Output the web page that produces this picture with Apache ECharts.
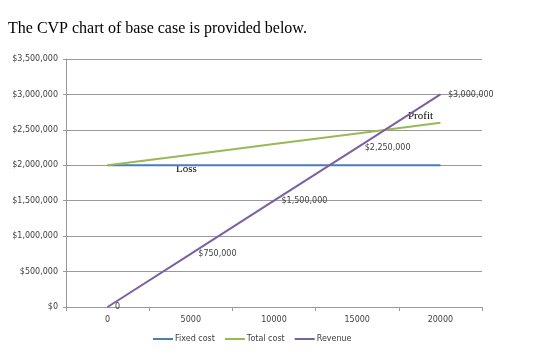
<!DOCTYPE html>
<html><head><meta charset="utf-8">
<script src="https://cdn.jsdelivr.net/npm/echarts@6/dist/echarts.min.js"></script>
<style>html,body{margin:0;padding:0;background:#fff}#c{width:539px;height:356px}</style>
</head><body><div id="c"></div>
<script>
var categories = ['0', '5000', '10000', '15000', '20000'];
var fixedCost = [2000000, 2000000, 2000000, 2000000, 2000000];
var totalCost = [2000000, 2150000, 2300000, 2450000, 2600000];
var revenue = [0, 750000, 1500000, 2250000, 3000000];
var revenueLabels = ['0', '$750,000', '$1,500,000', '$2,250,000', '$3,000,000'];
var yTicks = [0, 500000, 1000000, 1500000, 2000000, 2500000, 3000000, 3500000];

function money(v){ return '$' + v.toString().replace(/\B(?=(\d{3})+(?!\d))/g, ','); }

var chart = echarts.init(document.getElementById('c'), null, {renderer:'canvas'});
var lab = {fontFamily:'DejaVu Sans', fontSize:8, color:'#404040'};
chart.setOption({
  backgroundColor:'#fff',
  animation:false,
  title:{text:'The CVP chart of base case is provided below.', left:3, top:16,
    textStyle:{fontFamily:'Liberation Serif', fontSize:16, fontWeight:'normal', color:'#000'}},
  grid:{left:66, right:57, top:59, bottom:49},
  legend:{bottom:8, left:148, icon:'rect', itemWidth:20, itemHeight:2, itemGap:10,
    textStyle:{fontFamily:'DejaVu Sans', fontSize:8, color:'#404040', padding:[0,0,0,-3]},
    data:['Fixed cost','Total cost','Revenue']},
  xAxis:{type:'category', data:categories, boundaryGap:true,
    axisLine:{lineStyle:{color:'#999'}},
    axisTick:{show:true, length:4, lineStyle:{color:'#999'}},
    axisLabel:Object.assign({margin:9}, lab)},
  yAxis:{type:'value', min:0, max:3500000, interval:500000,
    axisLine:{show:true, lineStyle:{color:'#999'}},
    axisTick:{show:true, length:3, lineStyle:{color:'#999'}},
    splitLine:{lineStyle:{color:'#9a9a9a'}},
    axisLabel:Object.assign({margin:8, formatter:function(v){return money(v);}}, lab)},
  series:[
    {name:'Fixed cost', type:'line', data:fixedCost, symbol:'none', lineStyle:{width:2, color:'#4a7ebb'}, itemStyle:{color:'#4a7ebb'}},
    {name:'Total cost', type:'line', data:totalCost, symbol:'none', lineStyle:{width:2, color:'#98b954'}, itemStyle:{color:'#98b954'}},
    {name:'Revenue', type:'line', data:revenue, symbol:'circle', symbolSize:1, showSymbol:true,
      lineStyle:{width:2, color:'#7d60a0'}, itemStyle:{color:'#7d60a0'},
      label:Object.assign({show:true, position:'right', distance:7,
        formatter:function(p){return revenueLabels[p.dataIndex];}}, lab)}
  ],
  graphic:[
    {type:'text', left:176, top:164, style:{text:'Loss', font:'11px "Liberation Serif"', fill:'#000'}},
    {type:'text', left:408, top:111, style:{text:'Profit', font:'11px "Liberation Serif"', fill:'#000'}}
  ]
});
</script></body></html>
